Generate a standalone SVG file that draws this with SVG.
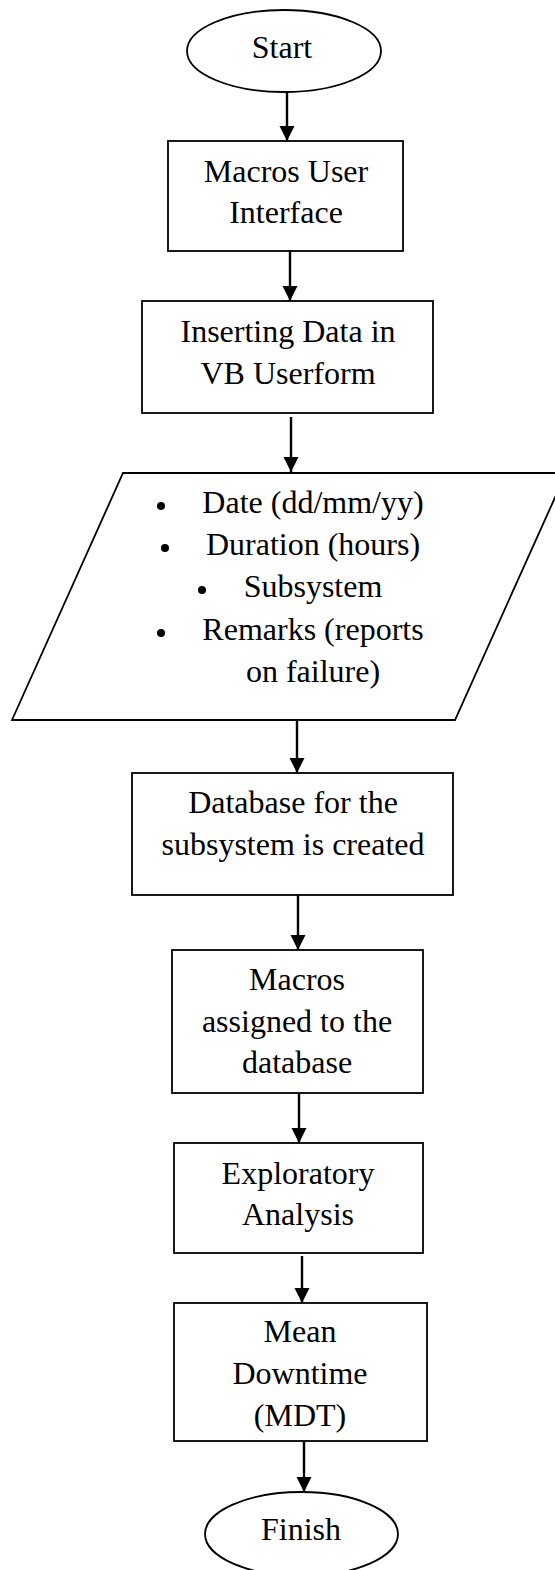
<svg xmlns="http://www.w3.org/2000/svg" width="555" height="1570" viewBox="0 0 555 1570">
  <style>
    .shape { fill: #ffffff; stroke: #000000; stroke-width: 1.8; }
    .lbl { font-family: "Liberation Serif", "Times New Roman", serif; font-size: 32px; fill: #000000; text-anchor: middle; }
    .conn { stroke: #000000; stroke-width: 2.4; fill: none; marker-end: url(#arrow); }
    .bullet { fill: #000000; }
  </style>
  <defs>
    <marker id="arrow" markerWidth="15" markerHeight="16" refX="15" refY="7.5" orient="auto" markerUnits="userSpaceOnUse">
      <path d="M0,0 L15,7.5 L0,15 Z" fill="#000000"/>
    </marker>
  </defs>
  <rect x="0" y="0" width="555" height="1570" fill="#ffffff"/>

  <g id="connectors">
    <line class="conn" x1="287" y1="92" x2="287" y2="141"/>
    <line class="conn" x1="290" y1="251" x2="290" y2="301"/>
    <line class="conn" x1="291" y1="417" x2="291" y2="472"/>
    <line class="conn" x1="297" y1="720" x2="297" y2="773"/>
    <line class="conn" x1="298" y1="895" x2="298" y2="950"/>
    <line class="conn" x1="299" y1="1093" x2="299" y2="1143"/>
    <line class="conn" x1="302" y1="1256" x2="302" y2="1303"/>
    <line class="conn" x1="304" y1="1441" x2="304" y2="1492"/>
  </g>

  <g id="start">
    <ellipse class="shape" cx="284" cy="51" rx="97" ry="41"/>
    <text class="lbl" x="282" y="58">Start</text>
  </g>

  <g id="macros-ui">
    <rect class="shape" x="168" y="141" width="235" height="110"/>
    <text class="lbl" x="286" y="182">Macros User</text>
    <text class="lbl" x="286" y="223">Interface</text>
  </g>

  <g id="inserting-data">
    <rect class="shape" x="142" y="301" width="291" height="112"/>
    <text class="lbl" x="288" y="342">Inserting Data in</text>
    <text class="lbl" x="288" y="384">VB Userform</text>
  </g>

  <g id="input-data">
    <polygon class="shape" points="123,473 566,473 455,720 12,720"/>
    <circle class="bullet" cx="161" cy="506" r="4"/>
    <text class="lbl" x="313" y="513">Date (dd/mm/yy)</text>
    <circle class="bullet" cx="165" cy="548" r="4"/>
    <text class="lbl" x="313" y="555">Duration (hours)</text>
    <circle class="bullet" cx="202" cy="590" r="4"/>
    <text class="lbl" x="313" y="597">Subsystem</text>
    <circle class="bullet" cx="161" cy="633" r="4"/>
    <text class="lbl" x="313" y="640">Remarks (reports</text>
    <text class="lbl" x="313" y="682">on failure)</text>
  </g>

  <g id="database">
    <rect class="shape" x="132" y="773" width="321" height="122"/>
    <text class="lbl" x="293" y="813">Database for the</text>
    <text class="lbl" x="293" y="855">subsystem is created</text>
  </g>

  <g id="macros-assigned">
    <rect class="shape" x="172" y="950" width="251" height="143"/>
    <text class="lbl" x="297" y="990">Macros</text>
    <text class="lbl" x="297" y="1032">assigned to the</text>
    <text class="lbl" x="297" y="1073">database</text>
  </g>

  <g id="exploratory">
    <rect class="shape" x="174" y="1143" width="249" height="110"/>
    <text class="lbl" x="298" y="1184">Exploratory</text>
    <text class="lbl" x="298" y="1225">Analysis</text>
  </g>

  <g id="mdt">
    <rect class="shape" x="174" y="1303" width="253" height="138"/>
    <text class="lbl" x="300" y="1342">Mean</text>
    <text class="lbl" x="300" y="1384">Downtime</text>
    <text class="lbl" x="300" y="1426">(MDT)</text>
  </g>

  <g id="finish">
    <ellipse class="shape" cx="301.5" cy="1534" rx="96.5" ry="42"/>
    <text class="lbl" x="301" y="1540">Finish</text>
  </g>
</svg>
